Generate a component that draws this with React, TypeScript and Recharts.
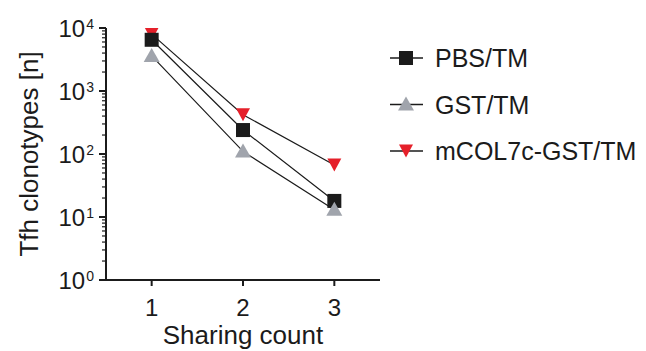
import { LineChart, Line, XAxis, YAxis } from 'recharts';

// Sharing count (x) and clonotype numbers per group
const sharingCount = [1, 2, 3];
const pbsTM = [6500, 240, 18];
const gstTM = [3600, 110, 13];
const mcol7cGstTM = [8000, 420, 67];

const decades = [1, 10, 100, 1000, 10000];
const decadeExponents = ['0', '1', '2', '3', '4'];
const xTicks = [1, 2, 3];

const BLACK = '#1b1b1b';
const GRAY = '#a0a4ac';
const RED = '#e5202a';
const FONT = '"Liberation Sans", Arial, Helvetica, sans-serif';

const data = sharingCount.map((c, i) => ({
  count: c,
  pbs: pbsTM[i],
  gst: gstTM[i],
  mcol: mcol7cGstTM[i],
}));

// log axis: labelled decades plus unlabelled minor ticks 2..9
const yTicks: number[] = [];
decades.forEach((d, i) => {
  yTicks.push(d);
  if (i < decades.length - 1) for (let k = 2; k <= 9; k++) yTicks.push(d * k);
});

const series = [
  { key: 'mcol', name: 'mCOL7c-GST/TM', color: RED, shape: 'down' },
  { key: 'pbs', name: 'PBS/TM', color: BLACK, shape: 'square' },
  { key: 'gst', name: 'GST/TM', color: GRAY, shape: 'up' },
];
const legendOrder = ['pbs', 'gst', 'mcol'];

function Marker({ cx, cy, shape, color }: { cx: number; cy: number; shape: string; color: string }) {
  if (shape === 'square') return <rect x={cx - 7} y={cy - 7} width={14} height={14} fill={color} />;
  if (shape === 'up')
    return <polygon points={`${cx},${cy - 8} ${cx - 8},${cy + 6} ${cx + 8},${cy + 6}`} fill={color} />;
  return <polygon points={`${cx - 7},${cy - 6.5} ${cx + 7},${cy - 6.5} ${cx},${cy + 6.5}`} fill={color} />;
}

function YTick({ x, y, payload }: any) {
  const v = payload.value;
  const idx = decades.indexOf(v);
  const major = idx >= 0;
  return (
    <g>
      <line x1={x} y1={y} x2={x - (major ? 7 : 4)} y2={y} stroke={BLACK} strokeWidth={major ? 2 : 1.2} />
      {major && (
        <text x={x - 12} y={y + 9} textAnchor="end" fill={BLACK} fontFamily={FONT} fontSize={24}>
          10
          <tspan dx={1} dy={-8} fontSize={14}>{decadeExponents[idx]}</tspan>
        </text>
      )}
    </g>
  );
}

function YLabel({ viewBox }: any) {
  const cx = viewBox.x + 38;
  const cy = viewBox.y + viewBox.height / 2;
  return (
    <text
      x={cx}
      y={cy}
      transform={`rotate(-90, ${cx}, ${cy})`}
      textAnchor="middle"
      fill={BLACK}
      fontFamily={FONT}
      fontSize={26}
    >
      Tfh clonotypes [n]
    </text>
  );
}

function ChartLegend() {
  return (
    <svg width={260} height={130} style={{ position: 'absolute', left: 386, top: 34 }}>
      {legendOrder.map((k, i) => {
        const s = series.find(d => d.key === k)!;
        const y = 24 + i * 46.5;
        return (
          <g key={k}>
            <line x1={4} x2={37} y1={y} y2={y} stroke={BLACK} strokeWidth={1.5} />
            <Marker cx={20} cy={y} shape={s.shape} color={s.color} />
            <text x={49} y={y + 9} fill={BLACK} fontFamily={FONT} fontSize={25}>
              {s.name}
            </text>
          </g>
        );
      })}
    </svg>
  );
}

export default function App() {
  return (
    <div style={{ position: 'absolute', left: 0, top: 0, width: 646, height: 351, background: '#fff' }}>
      <LineChart width={646} height={351} data={data} margin={{ top: 28, right: 266, bottom: 0, left: 0 }}>
        <XAxis
          dataKey="count"
          type="number"
          domain={[0.5, 3.5]}
          ticks={xTicks}
          height={71}
          tickSize={6}
          tickMargin={13}
          axisLine={{ stroke: BLACK, strokeWidth: 2 }}
          tickLine={{ stroke: BLACK, strokeWidth: 2 }}
          tick={{ fill: BLACK, fontSize: 24, fontFamily: FONT }}
          label={{ value: 'Sharing count', position: 'insideBottom', offset: 7, fill: BLACK, fontSize: 26, fontFamily: FONT }}
        />
        <YAxis
          scale="log"
          domain={[1, 10000]}
          allowDataOverflow
          ticks={yTicks}
          interval={0}
          width={106}
          tickSize={0}
          tickMargin={0}
          tickLine={false}
          axisLine={{ stroke: BLACK, strokeWidth: 2 }}
          tick={<YTick />}
          label={<YLabel />}
        />
        {series.map(s => (
          <Line
            key={s.key}
            dataKey={s.key}
            name={s.name}
            stroke={BLACK}
            strokeWidth={1.2}
            isAnimationActive={false}
            activeDot={false}
            dot={(p: any) => <Marker key={`${s.key}-${p.index}`} cx={p.cx} cy={p.cy} shape={s.shape} color={s.color} />}
          />
        ))}
      </LineChart>
      <ChartLegend />
    </div>
  );
}
